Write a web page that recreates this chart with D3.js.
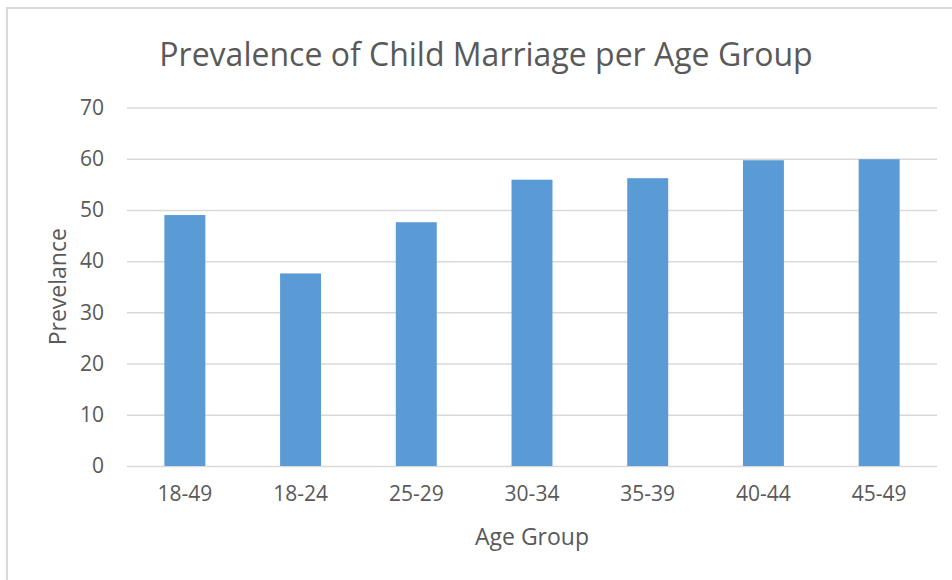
<!DOCTYPE html>
<html>
<head>
<meta charset="utf-8">
<script src="https://cdn.jsdelivr.net/npm/d3@7"></script>
<style>
  body { margin: 0; background: #fff; }
  text { font-family: "Open Sans", sans-serif; fill: #595959; }
</style>
</head>
<body>
<div class="chart"></div>
<script>
// Child marriage prevalence bar chart

var ageGroups = ["18-49", "18-24", "25-29", "30-34", "35-39", "40-44", "45-49"];
var prevalence = [49.0, 37.6, 47.6, 55.9, 56.2, 59.7, 59.9];
var yTicks = [0, 10, 20, 30, 40, 50, 60, 70];

var svgWidth = 952;
var svgHeight = 580;

var margin = { top: 107.5, right: 15, bottom: 114, left: 127 };
var width = svgWidth - margin.left - margin.right;
var height = svgHeight - margin.top - margin.bottom;

var svg = d3.select(".chart")
  .append("svg")
  .attr("width", svgWidth)
  .attr("height", svgHeight);

svg.append("rect")
  .attr("width", svgWidth)
  .attr("height", svgHeight)
  .attr("fill", "#fff");

// chart frame (only top/left edges are visible in the crop)
svg.append("path")
  .attr("d", `M7,${svgHeight} V8 H${svgWidth}`)
  .attr("fill", "none")
  .attr("stroke", "#d9d9d9")
  .attr("stroke-width", 2);

svg.append("text")
  .attr("x", 486)
  .attr("y", 66)
  .attr("text-anchor", "middle")
  .attr("font-size", "32px")
  .text("Prevalence of Child Marriage per Age Group");

var chartGroup = svg.append("g")
  .attr("transform", `translate(${margin.left}, ${margin.top})`);

var data = ageGroups.map((g, i) => ({ group: g, value: prevalence[i] }));

var xBandScale = d3.scaleBand()
  .domain(ageGroups)
  .range([0, width])
  .paddingInner(0.646)
  .paddingOuter(0.323);

var yLinearScale = d3.scaleLinear()
  .domain([0, 70])
  .range([height, 0]);

// gridlines
var leftAxis = d3.axisLeft(yLinearScale)
  .tickValues(yTicks)
  .tickSize(-width)
  .tickPadding(23);

var yAxis = chartGroup.append("g")
  .call(leftAxis);
yAxis.select(".domain").remove();
yAxis.selectAll("line")
  .attr("stroke", "#d9d9d9")
  .attr("stroke-width", 1.5);
yAxis.selectAll("text")
  .attr("font-size", "21px")
  .attr("fill", "#595959");

var bottomAxis = d3.axisBottom(xBandScale)
  .tickSize(0)
  .tickPadding(20);

var xAxis = chartGroup.append("g")
  .attr("transform", `translate(0, ${height})`)
  .call(bottomAxis);
xAxis.select(".domain").remove();
xAxis.selectAll("text")
  .attr("font-size", "21px")
  .attr("fill", "#595959");

chartGroup.selectAll("rect.bar")
  .data(data)
  .enter()
  .append("rect")
  .attr("class", "bar")
  .attr("x", d => xBandScale(d.group))
  .attr("y", d => yLinearScale(d.value))
  .attr("width", xBandScale.bandwidth())
  .attr("height", d => height - yLinearScale(d.value))
  .attr("fill", "#5b9bd5");

// axis titles
chartGroup.append("text")
  .attr("x", width / 2)
  .attr("y", height + 79)
  .attr("text-anchor", "middle")
  .attr("font-size", "23px")
  .text("Age Group");

chartGroup.append("text")
  .attr("transform", `translate(${66 - margin.left}, ${height / 2}) rotate(-90)`)
  .attr("text-anchor", "middle")
  .attr("font-size", "23px")
  .text("Prevelance");
</script>
</body>
</html>
